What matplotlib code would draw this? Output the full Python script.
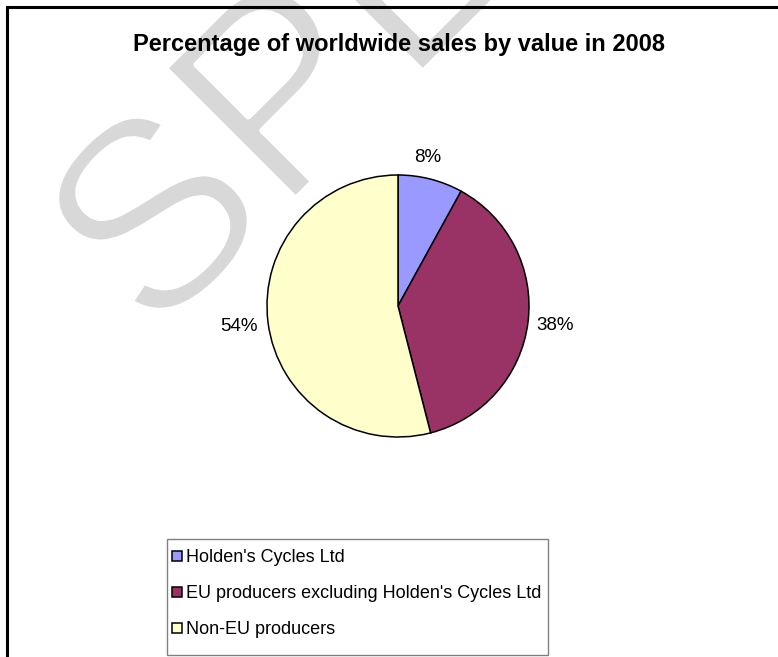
import numpy as np
import matplotlib
matplotlib.use('Agg')
import matplotlib.pyplot as plt
import matplotlib.patheffects as pe
from matplotlib.patches import Rectangle

plt.rcParams['font.family'] = ['Liberation Sans', 'DejaVu Sans']

title = "Percentage of worldwide sales by value in 2008"
labels = ["Holden's Cycles Ltd",
          "EU producers excluding Holden's Cycles Ltd",
          "Non-EU producers"]
shares = [8, 38, 54]
colors = ['#9999FF', '#993366', '#FFFFCC']

# excel puts each data label at its own gap / angle from the rim
label_dist = [1.16, 1.21, 1.22]
label_turn = [3, 0, 0]

W, H = 778, 657


def main():
    fig = plt.figure(figsize=(W / 100, H / 100), dpi=100)
    fig.patch.set_facecolor('white')

    # watermark behind everything, thinned with a white stroke on top
    fig.text(153 / W, 1 - 342 / H, 'SPECIMEN', rotation=45, rotation_mode='anchor',
             ha='left', va='baseline', fontsize=194, color='#d8d8d8', zorder=-1,
             path_effects=[pe.Normal(), pe.Stroke(linewidth=4.5, foreground='white')])

    # outer chart frame (runs off the right and bottom edges)
    fig.patches.append(Rectangle((7 / W, -0.1), 1.2, 1 - 7 / H + 0.1,
                                 transform=fig.transFigure, fill=False,
                                 edgecolor='black', linewidth=2.2, zorder=1))

    fig.text(399 / W, 1 - 45 / H, title, ha='center', va='center',
             fontsize=17, fontweight='bold', zorder=3)

    cx, cy, r = 398, 306, 131
    ax = fig.add_axes([(cx - r) / W, 1 - (cy + r) / H, 2 * r / W, 2 * r / H])
    wedges, _, pct = ax.pie(shares, colors=colors, startangle=90, counterclock=False,
                            autopct='%1.0f%%', pctdistance=1.21,
                            wedgeprops=dict(edgecolor='black', linewidth=1.1),
                            textprops=dict(fontsize=13.5))
    for w, t, d, turn in zip(wedges, pct, label_dist, label_turn):
        mid = np.deg2rad((w.theta1 + w.theta2) / 2 + turn)
        t.set_position((d * np.cos(mid), d * np.sin(mid)))
    ax.set_xlim(-1, 1)
    ax.set_ylim(-1, 1)
    ax.set_aspect('auto')
    ax.axis('off')

    # legend box drawn separately so its height matches the excel one
    fig.patches.append(Rectangle((167 / W, 1 - 655 / H), (548 - 167) / W, (655 - 539) / H,
                                 transform=fig.transFigure, facecolor='white',
                                 edgecolor='#808080', linewidth=1.0, zorder=2))
    fig.legend(wedges, labels, loc='upper left',
               bbox_to_anchor=(167 / W, 1 - 544 / H), borderaxespad=0,
               fontsize=13, frameon=False,
               borderpad=0.3, handletextpad=0.2, handlelength=0.55,
               handleheight=0.55, labelspacing=1.05)

    fig.savefig('out.png', dpi=100)


if __name__ == '__main__':
    main()
